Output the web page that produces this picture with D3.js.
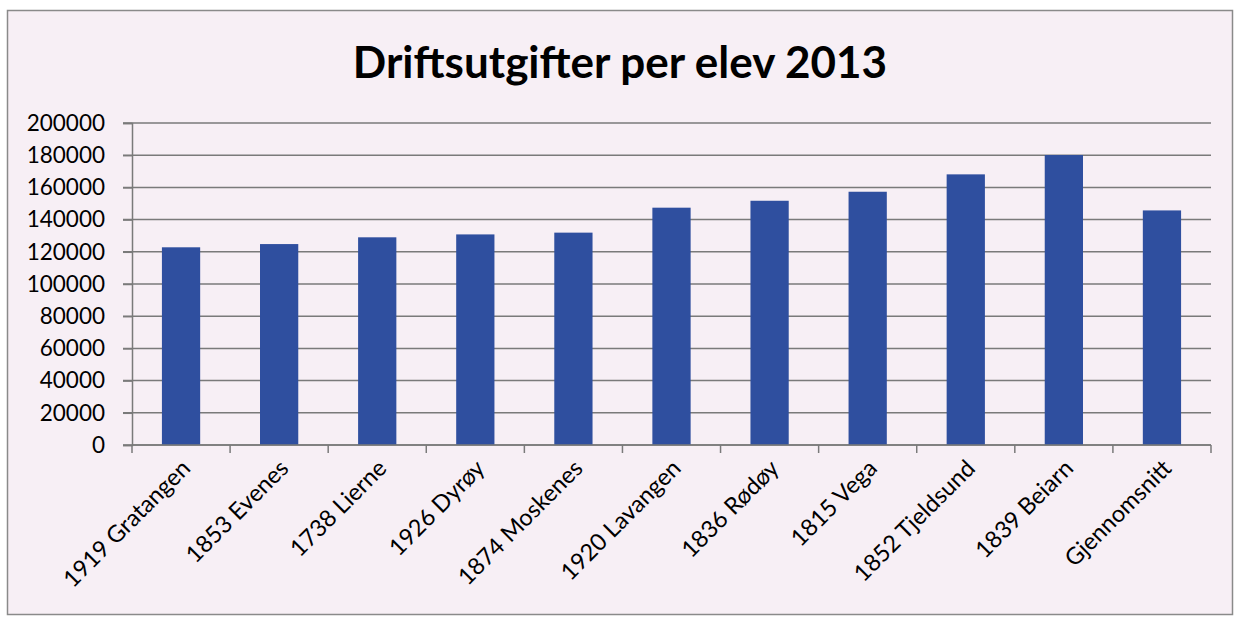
<!DOCTYPE html>
<html>
<head>
<meta charset="utf-8">
<script src="https://cdn.jsdelivr.net/npm/d3@7"></script>
<style>
  body { margin: 0; background: #ffffff; }
  svg { display: block; }
</style>
</head>
<body>
<div class="chart"></div>
<script>
// data
const categories = ['1919 Gratangen','1853 Evenes','1738 Lierne','1926 Dyrøy','1874 Moskenes',
  '1920 Lavangen','1836 Rødøy','1815 Vega','1852 Tjeldsund','1839 Beiarn','Gjennomsnitt'];
const values = [122800, 124800, 129000, 130800, 131900, 147400, 151700, 157300, 168100, 180100, 145700];
const yTicks = [0, 20000, 40000, 60000, 80000, 100000, 120000, 140000, 160000, 180000, 200000];
const title = 'Driftsutgifter per elev 2013';

const width = 1239;
const height = 621;
const margin = {top: 123, right: 28, bottom: 176, left: 132};
const font = 'Lato, "Open Sans", sans-serif';

const svg = d3.select('.chart').append('svg')
    .attr('width', width)
    .attr('height', height);

// chart background and frame
svg.append('rect')
    .attr('x', 7.5).attr('y', 10.5)
    .attr('width', 1225).attr('height', 604)
    .attr('fill', '#f7eff5')
    .attr('stroke', '#8a8a8a')
    .attr('stroke-width', 1.5);

svg.append('text')
    .attr('x', 620).attr('y', 78)
    .attr('text-anchor', 'middle')
    .style('font-family', font)
    .style('font-weight', 'bold')
    .style('font-size', '44px')
    .attr('fill', '#000')
    .text(title);

const x = d3.scaleBand()
    .domain(categories)
    .range([margin.left, width - margin.right])
    .paddingInner(0.61)
    .paddingOuter(0.305);

const y = d3.scaleLinear()
    .domain([0, 200000])
    .range([height - margin.bottom, margin.top]);

// gridlines
svg.append('g')
    .selectAll('line')
    .data(yTicks)
    .enter()
    .append('line')
    .attr('x1', margin.left - 9)
    .attr('x2', width - margin.right)
    .attr('y1', d => y(d))
    .attr('y2', d => y(d))
    .attr('stroke', '#7a7a7a')
    .attr('stroke-width', 1.5);

// y axis
const yAxis = svg.append('g')
    .attr('transform', `translate(${margin.left},0)`)
    .call(d3.axisLeft(y).tickValues(yTicks).tickSize(9).tickPadding(18).tickFormat(d3.format('d')));
yAxis.selectAll('text')
    .style('font-family', font)
    .style('font-size', '22.5px')
    .attr('fill', '#000');
yAxis.selectAll('line').attr('stroke', '#7a7a7a').attr('stroke-width', 1.5);
yAxis.select('.domain').attr('stroke', '#7a7a7a').attr('stroke-width', 1.5);

// bars
svg.append('g')
    .selectAll('rect')
    .data(values)
    .enter()
    .append('rect')
    .attr('x', (d, i) => x(categories[i]))
    .attr('width', x.bandwidth())
    .attr('y', d => y(d))
    .attr('height', d => y(0) - y(d))
    .attr('fill', '#2f4f9f');

// x axis with ticks between categories
const step = x.step();
const boundaries = d3.range(categories.length + 1).map(i => margin.left + i * step);
const xAxis = svg.append('g');
xAxis.append('line')
    .attr('x1', margin.left).attr('x2', width - margin.right)
    .attr('y1', y(0)).attr('y2', y(0))
    .attr('stroke', '#7a7a7a').attr('stroke-width', 1.5);
xAxis.selectAll('.tick')
    .data(boundaries)
    .enter()
    .append('line')
    .attr('x1', d => d).attr('x2', d => d)
    .attr('y1', y(0)).attr('y2', y(0) + 8)
    .attr('stroke', '#7a7a7a').attr('stroke-width', 1.5);

xAxis.selectAll('text')
    .data(categories)
    .enter()
    .append('text')
    .attr('transform', d => `translate(${x(d) + x.bandwidth() / 2 + 5},${y(0) + 19}) rotate(-45)`)
    .attr('text-anchor', 'end')
    .attr('dy', '0.35em')
    .style('font-family', font)
    .style('font-size', '23.5px')
    .attr('fill', '#000')
    .text(d => d);
</script>
</body>
</html>
